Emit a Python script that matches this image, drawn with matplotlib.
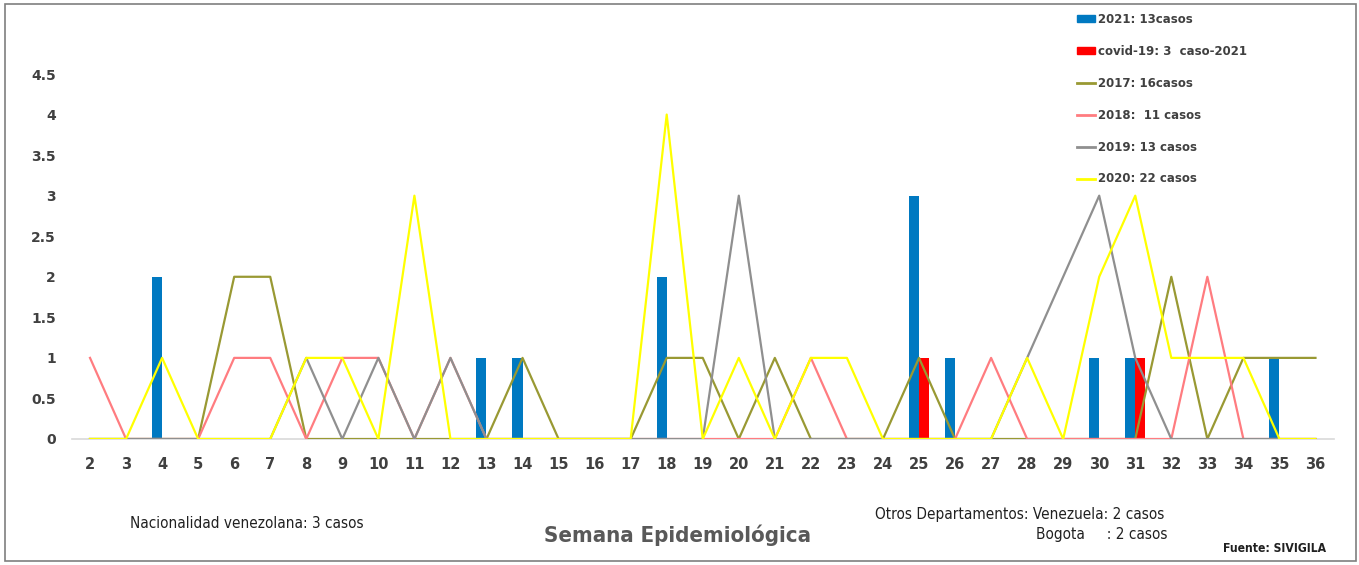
import matplotlib
matplotlib.use("Agg")
import matplotlib.pyplot as plt
from matplotlib import font_manager
from matplotlib.patches import Rectangle
from matplotlib.lines import Line2D
from matplotlib.patches import Patch

weeks = list(range(2, 37))
cases_2021 = [0,0,2,0,0,0,0,0,0,0,0,1,1,0,0,0,2,0,0,0,0,0,0,3,1,0,0,0,1,1,0,0,0,1,0]
covid_2021 = [0,0,0,0,0,0,0,0,0,0,0,0,0,0,0,0,0,0,0,0,0,0,0,1,0,0,0,0,0,1,0,0,0,0,0]
y2017 = [0,0,0,0,2,2,0,0,0,0,0,0,1,0,0,0,1,1,0,1,0,0,0,1,0,0,0,0,0,0,2,0,1,1,1]
y2018 = [1,0,0,0,1,1,0,1,1,0,1,0,0,0,0,0,0,0,0,0,1,0,0,0,0,1,0,0,0,0,0,2,0,0,0]
y2019 = [0,0,0,0,0,0,1,0,1,0,1,0,0,0,0,0,0,0,3,0,0,0,0,0,0,0,1,2,3,1,0,0,0,0,0]
y2020 = [0,0,1,0,0,0,1,1,0,3,0,0,0,0,0,0,4,0,1,0,1,1,0,0,0,0,1,0,2,3,1,1,1,0,0]
yticks = [0, 0.5, 1, 1.5, 2, 2.5, 3, 3.5, 4, 4.5]
ytick_labels = ["0", "0.5", "1", "1.5", "2", "2.5", "3", "3.5", "4", "4.5"]
legend_labels = ["2021: 13casos", "covid-19: 3  caso-2021", "2017: 16casos",
                 "2018:  11 casos", "2019: 13 casos", "2020: 22 casos"]

names = {f.name for f in font_manager.fontManager.ttflist}
narrow = "Liberation Sans Narrow" if "Liberation Sans Narrow" in names else "DejaVu Sans"

c_blue = "#0079C1"
c_red = "#FF0000"
c_olive = "#999933"
c_pink = "#FF7C80"
c_grey = "#8F8F8F"
c_yellow = "#FFFF00"
txt = "#404040"

fig = plt.figure(figsize=(13.59, 5.65), dpi=100)
W, H = 1359, 565
ax = fig.add_axes([72 / W, (H - 439) / H, (1333.5 - 72) / W, (439 - 74) / H])

bw = 0.28
ax.bar([w - bw / 2 for w in weeks], cases_2021, width=bw, color=c_blue, zorder=2)
ax.bar([w + bw / 2 for w in weeks], covid_2021, width=bw, color=c_red, zorder=2)
lw = 1.6
ax.plot(weeks, y2017, color=c_olive, lw=lw, zorder=3)
ax.plot(weeks, y2018, color=c_pink, lw=lw, zorder=3)
ax.plot(weeks, y2019, color=c_grey, lw=lw, zorder=3)
ax.plot(weeks, y2020, color=c_yellow, lw=lw, zorder=4)

ax.set_xlim(1.5, 36.5)
ax.set_ylim(0, 4.5)
ax.set_xticks(weeks)
ax.set_xticklabels([str(w) for w in weeks], fontsize=10.5, fontweight="bold", color=txt)
ax.set_yticks(yticks)
ax.set_yticklabels(ytick_labels, fontsize=10, fontweight="bold", color=txt)
ax.tick_params(axis="both", length=0)
ax.tick_params(axis="x", pad=13)
ax.tick_params(axis="y", pad=11.5)
for s in ["top", "right", "left"]:
    ax.spines[s].set_visible(False)
ax.spines["bottom"].set_color("#D9D9D9")
ax.spines["bottom"].set_linewidth(1.2)
ax.spines["bottom"].set_zorder(1)
ax.patch.set_alpha(0)

handles = [Patch(color=c_blue), Patch(color=c_red),
           Line2D([], [], color=c_olive, lw=2), Line2D([], [], color=c_pink, lw=2),
           Line2D([], [], color=c_grey, lw=2), Line2D([], [], color=c_yellow, lw=2)]
leg = fig.legend(handles, legend_labels, loc="upper left",
                 bbox_to_anchor=(1077 / W, 1 - 13 / H), frameon=False,
                 prop={"weight": "bold", "size": 8.5}, labelcolor=txt,
                 handlelength=1.5, handleheight=0.55, handletextpad=0.25,
                 labelspacing=1.6, borderaxespad=0, borderpad=0)

fig.text(130 / W, 1 - 523 / H, "Nacionalidad venezolana: 3 casos", fontsize=11,
         color="#202020", va="center", ha="left", family=narrow, stretch="condensed")
fig.text(677 / W, 1 - 535 / H, "Semana Epidemiológica", fontsize=15.9, fontweight="bold",
         color="#595959", va="center", ha="center", family=narrow, stretch="condensed")
fig.text(1164 / W, 1 - 514 / H, "Otros Departamentos: Venezuela: 2 casos", fontsize=11,
         color="#202020", va="center", ha="right", family=narrow, stretch="condensed")
fig.text(1167 / W, 1 - 534 / H, "Bogota     : 2 casos", fontsize=11,
         color="#202020", va="center", ha="right", family=narrow, stretch="condensed")
fig.text(1326 / W, 1 - 548 / H, "Fuente: SIVIGILA", fontsize=8.75, fontweight="bold",
         color="#202020", va="center", ha="right", family=narrow, stretch="condensed")

fig.patches.append(Rectangle((5 / W, 4 / H), (1356 - 5) / W, (561 - 4) / H,
                             transform=fig.transFigure, fill=False,
                             edgecolor="#7F7F7F", lw=1.2))

fig.savefig("out.png", dpi=100)
